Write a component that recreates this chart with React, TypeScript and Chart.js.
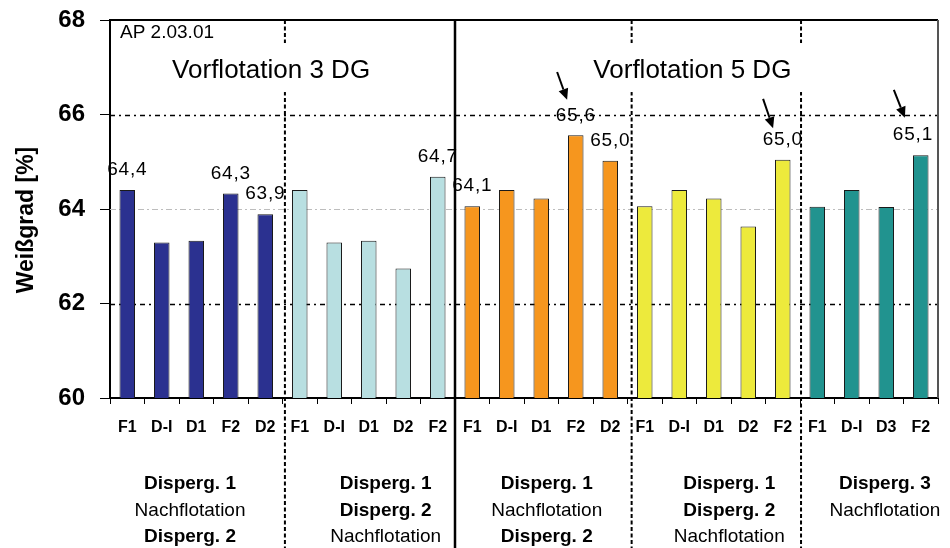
import React, { useEffect, useRef } from 'react';
import { Chart, registerables } from 'chart.js';

Chart.register(...registerables);

const FONT = '"Liberation Sans", Arial, Helvetica, sans-serif';

// ---- data ----
const categories = [
  'F1', 'D-I', 'D1', 'F2', 'D2',
  'F1', 'D-I', 'D1', 'D2', 'F2',
  'F1', 'D-I', 'D1', 'F2', 'D2',
  'F1', 'D-I', 'D1', 'D2', 'F2',
  'F1', 'D-I', 'D3', 'F2',
];
const whiteness = [
  64.4, 63.29, 63.33, 64.33, 63.89,
  64.4, 63.29, 63.33, 62.74, 64.68,
  64.06, 64.4, 64.22, 65.56, 65.02,
  64.06, 64.4, 64.22, 63.63, 65.04,
  64.05, 64.4, 64.04, 65.14,
];
const showValue = [
  true, false, false, true, true,
  false, false, false, false, true,
  true, false, false, true, true,
  false, false, false, false, true,
  false, false, false, true,
];
const groupSizes = [5, 5, 5, 5, 4];
const groupColors = ['#2B3190', '#B8DFE1', '#F6961E', '#EDEA3C', '#21938F'];
const groupLines: [string, boolean][][] = [
  [['Disperg. 1', true], ['Nachflotation', false], ['Disperg. 2', true]],
  [['Disperg. 1', true], ['Disperg. 2', true], ['Nachflotation', false]],
  [['Disperg. 1', true], ['Nachflotation', false], ['Disperg. 2', true]],
  [['Disperg. 1', true], ['Disperg. 2', true], ['Nachflotation', false]],
  [['Disperg. 3', true], ['Nachflotation', false]],
];
const yTicks = [60, 62, 64, 66, 68];
const yTitle = 'Weißgrad [%]';
const noteText = 'AP 2.03.01';
const sectionTitles = ['Vorflotation 3 DG', 'Vorflotation 5 DG'];
// arrows in (category index, value) coordinates
const arrows = [
  { from: [12.46, 66.9], to: [12.75, 66.31] },
  { from: [18.43, 66.33], to: [18.72, 65.71] },
  { from: [22.22, 66.52], to: [22.54, 65.93] },
];

// ---- layout constants (category-unit anchors) ----
const separatorPos = [4.57, 9.5, 14.62, 19.53];
const separatorSolid = [false, true, false, false];
const groupLabelCenters = [1.82, 7.49, 12.16, 17.45, 21.96];
const sectionTitleAnchors = [[4.17, 66.92], [16.38, 66.92]];

const barColors: string[] = [];
groupSizes.forEach((n, g) => {
  for (let i = 0; i < n; i++) barColors.push(groupColors[g]);
});

const fmt = (v: number) => v.toFixed(1).replace('.', ',');

const overlay = {
  id: 'overlay',
  beforeDatasetsDraw(chart: any) {
    const { ctx, chartArea, scales } = chart;
    const y = scales.y;
    ctx.save();
    for (const v of yTicks) {
      if (v === yTicks[0] || v === yTicks[yTicks.length - 1]) continue;
      const py = Math.round(y.getPixelForValue(v)) + 0.5;
      ctx.beginPath();
      if (v === 64) {
        ctx.strokeStyle = '#BDBDBD';
        ctx.lineWidth = 1;
        ctx.setLineDash([6, 3, 2, 3]);
      } else {
        ctx.strokeStyle = '#000';
        ctx.lineWidth = 1.6;
        ctx.setLineDash([5, 4, 2, 4]);
      }
      ctx.moveTo(chartArea.left, py);
      ctx.lineTo(chartArea.right, py);
      ctx.stroke();
    }
    ctx.restore();
  },
  afterDraw(chart: any) {
    const { ctx, chartArea, scales } = chart;
    const x = scales.x;
    const y = scales.y;
    const H = chart.height;
    ctx.save();

    // top and right frame
    ctx.setLineDash([]);
    ctx.strokeStyle = '#000';
    ctx.lineWidth = 2;
    ctx.beginPath();
    ctx.moveTo(chartArea.left, chartArea.top);
    ctx.lineTo(chartArea.right, chartArea.top);
    ctx.stroke();
    ctx.strokeStyle = '#555';
    ctx.beginPath();
    ctx.moveTo(chartArea.right, chartArea.top);
    ctx.lineTo(chartArea.right, chartArea.bottom);
    ctx.stroke();

    // separators
    separatorPos.forEach((p, i) => {
      const px = x.getPixelForValue(p);
      ctx.beginPath();
      ctx.strokeStyle = '#000';
      if (separatorSolid[i]) {
        ctx.lineWidth = 2.5;
        ctx.setLineDash([]);
      } else {
        ctx.lineWidth = 2;
        ctx.setLineDash([4, 2.5]);
      }
      ctx.moveTo(px, chartArea.top);
      ctx.lineTo(px, H);
      ctx.stroke();
    });
    ctx.setLineDash([]);

    // section titles with white boxes
    ctx.font = `26px ${FONT}`;
    ctx.textAlign = 'center';
    ctx.textBaseline = 'middle';
    sectionTitles.forEach((t, i) => {
      const cx = x.getPixelForValue(sectionTitleAnchors[i][0]);
      const cy = y.getPixelForValue(sectionTitleAnchors[i][1]);
      const w = ctx.measureText(t).width;
      ctx.fillStyle = '#fff';
      ctx.fillRect(cx - w / 2 - 12, cy - 28, w + 24, 49);
      ctx.fillStyle = '#000';
      ctx.fillText(t, cx, cy);
    });

    // note
    ctx.font = `19px ${FONT}`;
    ctx.textAlign = 'left';
    ctx.fillStyle = '#000';
    ctx.fillText(noteText, chartArea.left + 10, chartArea.top + 13);

    // value labels
    const meta = chart.getDatasetMeta(0);
    ctx.font = `19px ${FONT}`;
    (ctx as any).letterSpacing = '0.8px';
    ctx.textAlign = 'center';
    meta.data.forEach((bar: any, i: number) => {
      if (!showValue[i]) return;
      const t = fmt(whiteness[i]);
      const w = ctx.measureText(t).width;
      let cx = bar.x;
      if (cx + w / 2 > chartArea.right - 5) cx = chartArea.right - 5 - w / 2;
      ctx.fillText(t, cx, bar.y - 20);
    });
    (ctx as any).letterSpacing = '0px';

    // group labels
    groupLines.forEach((lines, g) => {
      const cx = x.getPixelForValue(groupLabelCenters[g]);
      lines.forEach(([txt, bold], li) => {
        ctx.font = `${bold ? 'bold ' : ''}19px ${FONT}`;
        ctx.fillText(txt, cx, 484 + li * 26.5);
      });
    });

    // arrows
    ctx.strokeStyle = '#000';
    ctx.fillStyle = '#000';
    ctx.lineWidth = 2;
    arrows.forEach((a) => {
      const x1 = x.getPixelForValue(a.from[0]);
      const y1 = y.getPixelForValue(a.from[1]);
      const x2 = x.getPixelForValue(a.to[0]);
      const y2 = y.getPixelForValue(a.to[1]);
      const ang = Math.atan2(y2 - y1, x2 - x1);
      const hl = 11;
      const hw = 5;
      const bx = x2 - hl * Math.cos(ang);
      const by = y2 - hl * Math.sin(ang);
      ctx.beginPath();
      ctx.moveTo(x1, y1);
      ctx.lineTo(bx, by);
      ctx.stroke();
      ctx.beginPath();
      ctx.moveTo(x2, y2);
      ctx.lineTo(bx + hw * Math.sin(ang), by - hw * Math.cos(ang));
      ctx.lineTo(bx - hw * Math.sin(ang), by + hw * Math.cos(ang));
      ctx.closePath();
      ctx.fill();
    });

    // y axis title
    ctx.save();
    ctx.translate(27, 220);
    ctx.rotate(-Math.PI / 2);
    ctx.font = `bold 23px ${FONT}`;
    ctx.textAlign = 'center';
    ctx.textBaseline = 'middle';
    ctx.fillText(yTitle, 0, 0);
    ctx.restore();

    ctx.restore();
  },
};

export default function App() {
  const ref = useRef<HTMLCanvasElement | null>(null);
  useEffect(() => {
    if (!ref.current) return;
    const chart = new Chart(ref.current, {
      type: 'bar',
      data: {
        labels: categories,
        datasets: [
          {
            data: whiteness,
            backgroundColor: barColors,
            borderColor: '#1a1a1a',
            borderWidth: 1,
            barPercentage: 0.45,
            categoryPercentage: 1,
          },
        ],
      },
      options: {
        animation: false,
        responsive: true,
        maintainAspectRatio: false,
        layout: { padding: { left: 0, top: 20, right: 12, bottom: 0 } },
        plugins: { legend: { display: false }, tooltip: { enabled: false } },
        scales: {
          x: {
            type: 'category',
            offset: true,
            grid: { offset: true, drawOnChartArea: false, tickLength: 6, color: '#000', lineWidth: 1 },
            border: { color: '#000', width: 2 },
            ticks: {
              autoSkip: false,
              maxRotation: 0,
              minRotation: 0,
              padding: 14,
              color: '#000',
              font: { family: FONT, size: 16, weight: 'bold' },
            },
            afterFit: (s: any) => { s.height = 150; s.paddingLeft = 0; s.paddingRight = 0; },
          },
          y: {
            min: 60,
            max: 68,
            grid: { drawOnChartArea: false, tickLength: 10, color: '#000', lineWidth: 1 },
            border: { color: '#000', width: 2 },
            ticks: {
              stepSize: 2,
              padding: 15,
              color: '#000',
              font: { family: FONT, size: 24, weight: 'bold' },
            },
            afterFit: (s: any) => { s.width = 110; s.paddingTop = 0; s.paddingBottom = 0; },
          },
        },
      },
      plugins: [overlay],
    } as any);
    return () => chart.destroy();
  }, []);
  return (
    <div style={{ position: 'absolute', left: 0, top: 0, width: 950, height: 548, background: '#fff' }}>
      <canvas ref={ref} />
    </div>
  );
}
